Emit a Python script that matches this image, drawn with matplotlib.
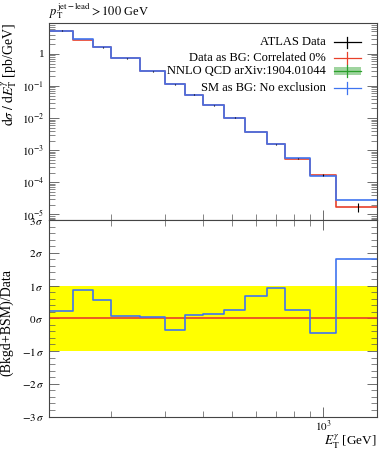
import numpy as np
import matplotlib
matplotlib.use("Agg")
import matplotlib.pyplot as plt
from matplotlib.ticker import LogLocator, NullFormatter, MultipleLocator, FuncFormatter

plt.rcParams['font.family'] = ['Liberation Serif', 'DejaVu Serif']
plt.rcParams['mathtext.fontset'] = 'stix'

# bin edges in E_T^gamma [GeV]
edges = [125, 150, 175, 200, 250, 300, 350, 400, 470, 550, 650, 750, 900, 1100, 1500]
# measured cross section (also "Data as BG")
data = [5.3, 2.7, 1.6, 0.72, 0.285, 0.113, 0.053, 0.0248, 0.0102, 0.0037,
        0.00152, 5.5e-4, 1.68e-4, 1.7e-5]
data_err = [0.15, 0.08, 0.05, 0.02, 0.008, 0.003, 0.0015, 0.0008, 0.0003, 0.00012,
            6e-5, 3e-5, 1.2e-5, 5e-6]
# SM as background
sm = [5.35, 2.85, 1.63, 0.735, 0.288, 0.112, 0.0535, 0.0251, 0.0104, 0.0038,
      0.00158, 5.6e-4, 1.6e-4, 2.8e-5]
# pulls (Bkgd+BSM - Data)/sigma
pull_sm = [0.21, 0.85, 0.55, 0.07, 0.04, -0.36, 0.10, 0.14, 0.26, 0.68,
           0.93, 0.25, -0.45, 1.82]
pull_data = [0.0] * 14

RED = '#e8402a'
BLUE = '#3f74f0'

edges = np.array(edges)
centers = 0.5 * (edges[:-1] + edges[1:])

def steps(vals):
    return np.append(vals, vals[-1])

fig = plt.figure(figsize=(3.89, 4.5), dpi=100)
ax = fig.add_axes([0.126, 0.511, 0.843, 0.438])
ax2 = fig.add_axes([0.126, 0.0744, 0.843, 0.4366], sharex=ax)

# top panel
ax.step(edges, steps(data), where='post', color=RED, lw=1.2)
ax.step(edges, steps(sm), where='post', color=BLUE, lw=1.2)
ax.errorbar(centers, data, yerr=data_err, fmt='none', ecolor='black', elinewidth=0.8)
ax.set_xscale('log')
ax.set_yscale('log')
ax.set_xlim(125, 1500)
ax.set_ylim(6.7e-6, 9.2)
# y label sits at the top end of the axis
fig.text(0.024, 0.949, r'$\mathrm{d}\sigma\;/\;\mathrm{d}E_\mathrm{T}^{\gamma}$ [pb/GeV]',
         fontsize=10, rotation=90, ha='center', va='top')
ax.text(0.0, 1.012, r'$p_\mathrm{T}^\mathrm{jet-lead} > 100$ GeV', transform=ax.transAxes,
        fontsize=9, ha='left', va='bottom')

def ylab(v, pos):
    if np.isclose(v, 1):
        return '1'
    return r'$10^{%d}$' % int(round(np.log10(v)))
ax.yaxis.set_major_locator(LogLocator(base=10, numticks=12))
ax.yaxis.set_major_formatter(FuncFormatter(ylab))
ax.yaxis.set_minor_locator(LogLocator(base=10, subs=np.arange(2, 10), numticks=12))
ax.yaxis.set_minor_formatter(NullFormatter())
plt.setp(ax.get_xticklabels(), visible=False)

# legend drawn by hand
labels = ['ATLAS Data', 'Data as BG: Correlated 0%', 'NNLO QCD arXiv:1904.01044',
          'SM as BG: No exclusion']
colors = ['black', RED, '#2ca02c', BLUE]
ys = [0.901, 0.824, 0.756, 0.672]
for lab, col, yy in zip(labels, colors, ys):
    ax.text(0.845, yy, lab, transform=ax.transAxes, ha='right', va='center', fontsize=9)
    if lab.startswith('NNLO'):
        ax.fill_between([0.868, 0.95], yy - 0.022, yy + 0.022, transform=ax.transAxes,
                        color='#9fd49f', lw=0)
    ax.plot([0.868, 0.95], [yy, yy], transform=ax.transAxes, color=col, lw=0.9)
    ax.plot([0.909, 0.909], [yy - 0.03, yy + 0.03], transform=ax.transAxes, color=col, lw=0.9)

# bottom panel
ax2.axhspan(-1, 1, color='#ffff00', lw=0)
ax2.step(edges, steps(pull_data), where='post', color=RED, lw=1.2)
ax2.step(edges, steps(pull_sm), where='post', color=BLUE, lw=1.2)
ax2.set_ylim(-3, 3)
ax2.yaxis.set_major_locator(MultipleLocator(1))
ax2.yaxis.set_minor_locator(MultipleLocator(0.2))
ax2.yaxis.set_major_formatter(FuncFormatter(lambda v, p: r'$%d\,\sigma$' % int(round(v))))
ax2.set_ylabel('(Bkgd+BSM)/Data', fontsize=10)
ax2.yaxis.set_label_coords(-0.108, 0.48)
ax2.set_xlabel(r'$E_\mathrm{T}^{\gamma}$ [GeV]', fontsize=9.5, ha='right')
ax2.xaxis.set_label_coords(1.0, -0.083)
ax2.xaxis.set_major_locator(LogLocator(base=10, numticks=5))
ax2.xaxis.set_minor_locator(LogLocator(base=10, subs=np.arange(2, 10), numticks=12))
ax2.xaxis.set_minor_formatter(NullFormatter())
ax2.xaxis.set_major_formatter(FuncFormatter(lambda v, p: r'$10^{%d}$' % int(round(np.log10(v)))))

for a in (ax, ax2):
    a.tick_params(which='both', direction='in', top=True, right=True, labelsize=8,
                  color='#555555')
    a.tick_params(which='major', length=7, width=0.6)
    a.tick_params(which='minor', length=4, width=0.5)
    for s in a.spines.values():
        s.set_color('#444444')
        s.set_linewidth(0.8)
ax.tick_params(axis='x', which='both', top=False)
ax2.tick_params(axis='x', which='both', pad=2)

fig.savefig('out.png', dpi=100)
